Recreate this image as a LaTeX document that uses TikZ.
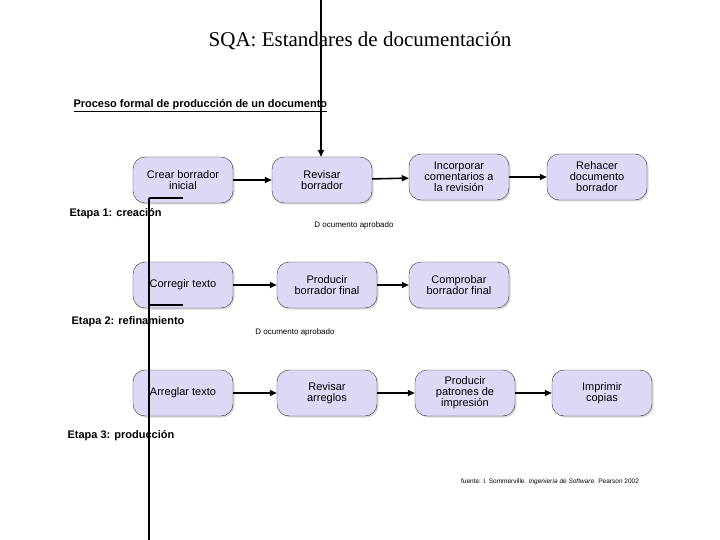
\documentclass[tikz,border=0pt]{standalone}
\usepackage{fontspec}
\setmainfont{Liberation Sans}
\newfontfamily\seriff{Liberation Serif}
\usetikzlibrary{arrows.meta,shadows}
\definecolor{boxfill}{HTML}{DCD8F5}
\begin{document}
\begin{tikzpicture}[x=1pt,y=-1pt,
  proc/.style={draw=black!80,fill=boxfill,rounded corners=12pt,minimum width=100pt,minimum height=46pt,align=center,font=\fontsize{11}{11}\selectfont,inner sep=2pt,drop shadow={shadow xshift=1.5pt,shadow yshift=-1.5pt,opacity=0.3}},
  flow/.style={-{Triangle[length=7pt,width=6pt]},line width=1.6pt},
  bar/.style={line width=1.6pt},
  stage/.style={font=\bfseries\fontsize{11}{11}\selectfont,anchor=west},
  small/.style={font=\fontsize{8}{8}\selectfont}]
\useasboundingbox (0,0) rectangle (720,540);
\node[font=\seriff\fontsize{21}{21}\selectfont] (title) at (360,41) {SQA: Estandares de documentación};
\node[font=\bfseries\fontsize{11}{11}\selectfont,anchor=west] (sub) at (70,106) {\underline{Proceso formal de producción de un documento}};
% row 1
\node[proc] (a1) at (183,180) {Crear borrador\\inicial};
\node[proc] (a2) at (322,180) {Revisar\\borrador};
\node[proc] (a3) at (459,177) {Incorporar\\comentarios a\\la revisión};
\node[proc] (a4) at (597,177) {Rehacer\\documento\\borrador};
% row 2
\node[proc] (b1) at (183,285) {Corregir texto};
\node[proc] (b2) at (327,285) {Producir\\borrador final};
\node[proc] (b3) at (459,285) {Comprobar\\borrador final};
% row 3
\node[proc] (c1) at (183,393) {Arreglar texto};
\node[proc] (c2) at (327,393) {Revisar\\arreglos};
\node[proc] (c3) at (465,393) {Producir\\patrones de\\impresión};
\node[proc] (c4) at (602,393) {Imprimir\\copias};
\draw[flow] (a1) -- (a2);
\draw[flow] (a2) -- (a3);
\draw[flow] (a3) -- (a4);
\draw[flow] (b1) -- (b2);
\draw[flow] (b2) -- (b3);
\draw[flow] (c1) -- (c2);
\draw[flow] (c2) -- (c3);
\draw[flow] (c3) -- (c4);
\coordinate (top) at (321,0);
\draw[flow] (top) -- (a2.north -| top);
\node[stage] (e1) at (66,214) {Etapa 1: creación};
\node[stage] (e2) at (68,322) {Etapa 2: refinamiento};
\node[stage] (e3) at (64,436) {Etapa 3: producción};
\node[small] (d1) at (354,225) {D ocumento aprobado};
\node[small] (d2) at (295,332) {D ocumento aprobado};
\coordinate (v1) at (149,198);
\coordinate (v2) at (149,540);
\draw[bar] (v1) -- (v2);
\draw[bar] (v1) -- ++(34,0);
\draw[bar] (149,305) -- ++(34,0);
\node[font=\fontsize{6.5}{6.5}\selectfont] (src) at (550,482) {fuente: I. Sommerville. \textit{Ingeniería de Software}. Pearson 2002};
\end{tikzpicture}
\end{document}
